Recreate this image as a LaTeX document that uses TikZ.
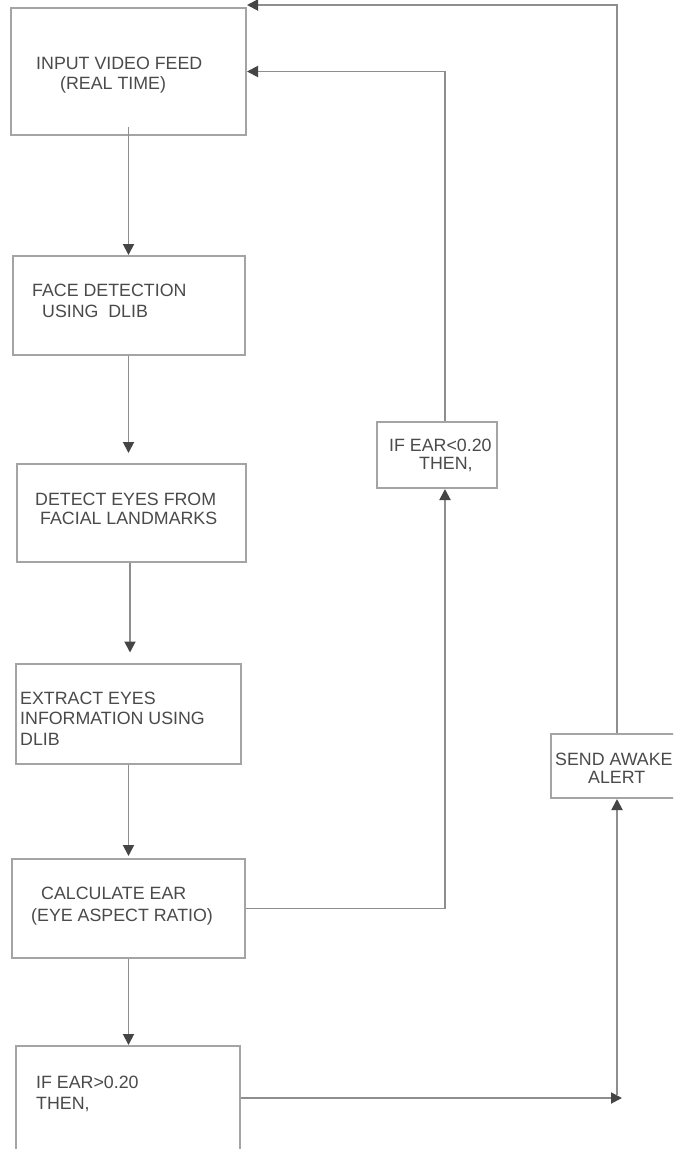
\documentclass[tikz,border=0pt]{standalone}
\usepackage{fontspec}
\setmainfont{Liberation Sans}
\usetikzlibrary{arrows.meta}
\definecolor{boxc}{HTML}{A4A4A4}
\definecolor{linec}{HTML}{8E8E8E}
\definecolor{tipc}{HTML}{454545}
\definecolor{txtc}{HTML}{4A4A4A}
\tikzset{
  box/.style={draw=boxc, line width=2pt, rectangle, inner sep=0pt},
  lbl/.style={anchor=base west, inner sep=0pt, text=txtc, font=\fontsize{17.8}{20}\selectfont},
  arr/.style={draw=linec, line width=1.9pt, -{Triangle[length=11pt,width=11pt,color=tipc]}},
  ln/.style={draw=linec, line width=1.9pt}
}
\begin{document}
\begin{tikzpicture}[x=1pt,y=-1pt]
\clip (0,0) rectangle (673,1149);
\fill[white] (0,0) rectangle (673,1149);
% boxes
\node[box, minimum width=235pt, minimum height=127pt] (b1) at (128.5,71.5) {};
\node[box, minimum width=232pt, minimum height=99pt] (b2) at (129,305.5) {};
\node[box, minimum width=229pt, minimum height=98pt] (b3) at (131.5,513) {};
\node[box, minimum width=225pt, minimum height=100pt] (b4) at (128.5,713.5) {};
\node[box, minimum width=233pt, minimum height=99pt] (b5) at (128.5,908.5) {};
\node[box, minimum width=224pt, minimum height=104pt] (b6) at (128,1098) {};
\node[box, minimum width=120pt, minimum height=66pt] (bL) at (437,455) {};
\node[box, minimum width=132pt, minimum height=64pt] (bS) at (617,766) {};
% texts
\node[lbl] (t1a) at (36,69.3) {INPUT VIDEO FEED};
\node[lbl] (t1b) at (60,89.3) {(REAL TIME)};
\node[lbl] (t2a) at (32,296.3) {FACE DETECTION};
\node[lbl] (t2b) at (42,317.3) {USING\hspace{0.55em}DLIB};
\node[lbl] (t3a) at (35,505.3) {DETECT EYES FROM};
\node[lbl] (t3b) at (40,524.3) {FACIAL LANDMARKS};
\node[lbl] (t4a) at (20,704.3) {EXTRACT EYES};
\node[lbl] (t4b) at (20,724.3) {INFORMATION USING};
\node[lbl] (t4c) at (20,745.3) {DLIB};
\node[lbl] (t5a) at (41,899.3) {CALCULATE EAR};
\node[lbl] (t5b) at (31,921.3) {(EYE ASPECT RATIO)};
\node[lbl] (t6a) at (36,1088.3) {IF EAR>0.20};
\node[lbl] (t6b) at (36,1109.3) {THEN,};
\node[lbl] (tLa) at (389,451.3) {IF EAR<0.20};
\node[lbl] (tLb) at (419,469.3) {THEN,};
\node[lbl] (tSa) at (555,765.5) {SEND AWAKE};
\node[lbl] (tSb) at (588,783) {ALERT};
% coordinates
\coordinate (cL) at (445,0);
\coordinate (cS) at (617,0);
% vertical chain
\draw[arr] ([yshift=9pt]b1.south) -- (b1.south |- b2.north);
\draw[arr] (b2.south -| b1.south) -- ([yshift=10pt]b3.north -| b1.south);
\draw[arr] (b3.south -| 130,0) -- ([yshift=10pt]b4.north -| 130,0);
\draw[arr] (b4.south) -- ([yshift=2pt]b4.south |- b5.north);
\draw[arr] (b5.south) -- (b5.south |- b6.north);
% loop through IF EAR<0.20
\draw[arr] (b5.east) -| (bL.south -| cL);
\draw[arr] (bL.north -| cL) |- (b1.east);
% awake path
\draw[arr] (b6.east) -- ([xshift=5pt]b6.east -| cS);
\draw[arr] ([yshift=3pt]b6.east -| cS) -- (bS.south -| cS);
\draw[arr] (bS.north -| cS) |- ([yshift=2pt]b1.north east);
\end{tikzpicture}
\end{document}
